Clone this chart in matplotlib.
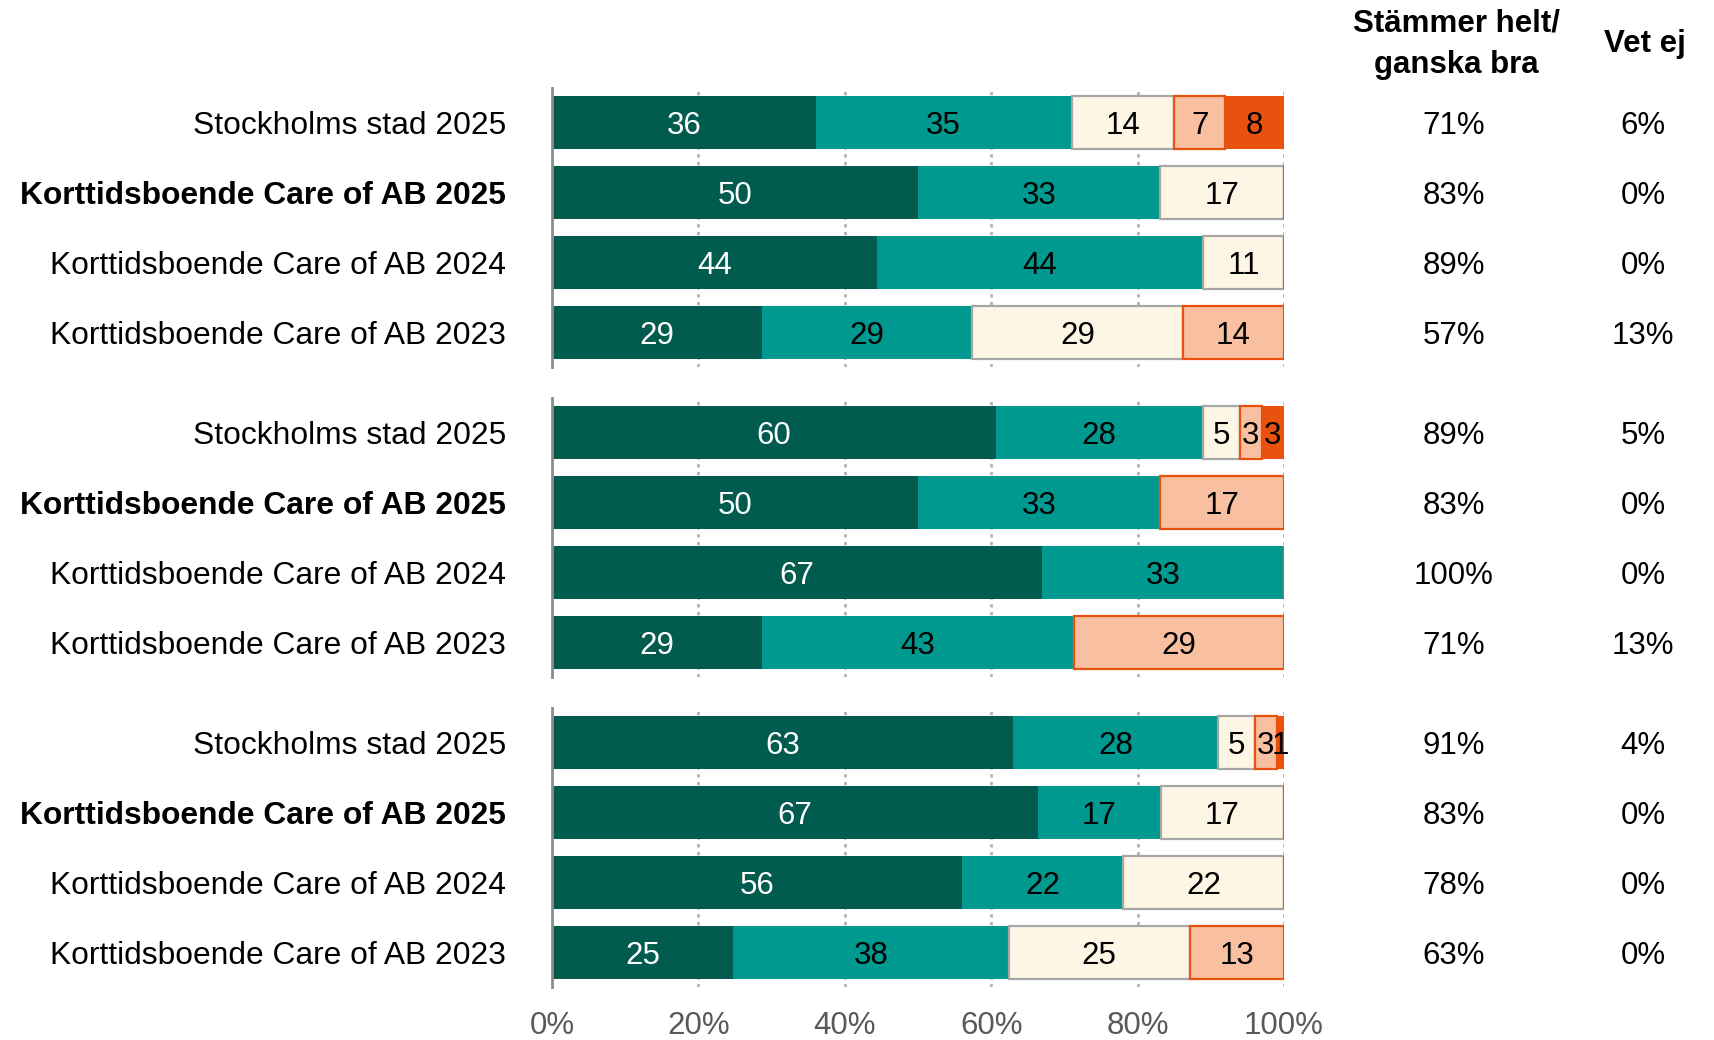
import matplotlib
matplotlib.use('Agg')
import matplotlib.pyplot as plt
from matplotlib.transforms import blended_transform_factory
import numpy as np

plt.rcParams['font.family'] = ['Liberation Sans', 'DejaVu Sans']

# ---------------- data ----------------
row_labels = ["Stockholms stad 2025", "Korttidsboende Care of AB 2025",
              "Korttidsboende Care of AB 2024", "Korttidsboende Care of AB 2023"]
bold_row = 1

panel1 = [[36, 35, 14, 7, 8],
          [50, 33, 17, 0, 0],
          [44, 44, 11, 0, 0],
          [29, 29, 29, 14, 0]]
panel2 = [[60, 28, 5, 3, 3],
          [50, 33, 0, 17, 0],
          [67, 33, 0, 0, 0],
          [29, 43, 0, 29, 0]]
panel3 = [[63, 28, 5, 3, 1],
          [67, 17, 17, 0, 0],
          [56, 22, 22, 0, 0],
          [25, 38, 25, 13, 0]]
panels = [panel1, panel2, panel3]

agree_pct = [[71, 83, 89, 57], [89, 83, 100, 71], [91, 83, 78, 63]]
dontknow_pct = [[6, 0, 0, 13], [5, 0, 0, 13], [4, 0, 0, 0]]

header_agree = ["Stämmer helt/", "ganska bra"]
header_dk = "Vet ej"
xticks = [0, 20, 40, 60, 80, 100]
xtick_labels = ["0%", "20%", "40%", "60%", "80%", "100%"]

# ---------------- style ----------------
face_colors = ["#015B4F", "#00998F", "#FEF6E4", "#F8BFA0", "#E8520E"]
edge_colors = [None, None, "#A6A6A6", "#E8520E", None]
text_colors = ["white", "black", "black", "black", "black"]
FS = 22.5
FS_LAB = 22.9

W, H = 1714, 1040
fig = plt.figure(figsize=(W / 100, H / 100), dpi=100)

left = 552 / W
width = (1284 - 552) / W
ax_h = 279 / H
bottoms = [1 - 367 / H, 1 - 677 / H, 1 - 987 / H]

for pi, (data, bot) in enumerate(zip(panels, bottoms)):
    ax = fig.add_axes([left, bot, width, ax_h])
    arr = np.array(data, dtype=float)
    widths = arr / arr.sum(axis=1, keepdims=True) * 100
    y = np.arange(len(row_labels))
    lefts = np.zeros(len(row_labels))
    for ci in range(arr.shape[1]):
        w = widths[:, ci]
        ec = edge_colors[ci] if edge_colors[ci] else face_colors[ci]
        lw = 1.6 if edge_colors[ci] else 0
        ax.barh(y, w, left=lefts, height=0.757, color=face_colors[ci],
                edgecolor=ec, linewidth=lw, zorder=3)
        for ri in range(len(y)):
            if arr[ri, ci] > 0:
                ax.text(lefts[ri] + w[ri] / 2, y[ri], f"{int(arr[ri, ci])}",
                        ha='center', va='center_baseline', fontsize=FS,
                        color=text_colors[ci], zorder=5)
        lefts = lefts + w
    ax.set_xlim(0, 100)
    ax.set_ylim(3.493, -0.493)
    for g in xticks[1:]:
        ax.axvline(g, color='#B3B3B3', linestyle=(0, (1.2, 1.6)), linewidth=2, zorder=1)
    for s in ['top', 'right', 'bottom']:
        ax.spines[s].set_visible(False)
    ax.spines['left'].set_color('#8C8C8C')
    ax.spines['left'].set_linewidth(2)
    ax.spines['left'].set_zorder(6)
    ax.set_yticks(y)
    ax.set_yticklabels(row_labels, fontsize=FS_LAB)
    for i, lab in enumerate(ax.get_yticklabels()):
        lab.set_verticalalignment('center_baseline')
        if i == bold_row:
            lab.set_fontweight('bold')
    ax.tick_params(axis='y', length=0, pad=33)
    if pi == 2:
        ax.set_xticks(xticks)
        ax.set_xticklabels(xtick_labels, fontsize=FS, color='#595959')
        ax.tick_params(axis='x', length=0, pad=17)
    else:
        ax.set_xticks([])
    tr = blended_transform_factory(fig.transFigure, ax.transData)
    for ri in range(len(y)):
        ax.text(1454 / W, y[ri], f"{agree_pct[pi][ri]}%", transform=tr,
                ha='center', va='center_baseline', fontsize=FS, color='black')
        ax.text(1643 / W, y[ri], f"{dontknow_pct[pi][ri]}%", transform=tr,
                ha='center', va='center_baseline', fontsize=FS, color='black')

fig.text(1456 / W, 1 - 32 / H, header_agree[0], ha='center', va='baseline',
         fontsize=FS, fontweight='bold')
fig.text(1456 / W, 1 - 73 / H, header_agree[1], ha='center', va='baseline',
         fontsize=FS, fontweight='bold')
fig.text(1645 / W, 1 - 52 / H, header_dk, ha='center', va='baseline',
         fontsize=FS, fontweight='bold')

fig.savefig('out.png', dpi=100)
